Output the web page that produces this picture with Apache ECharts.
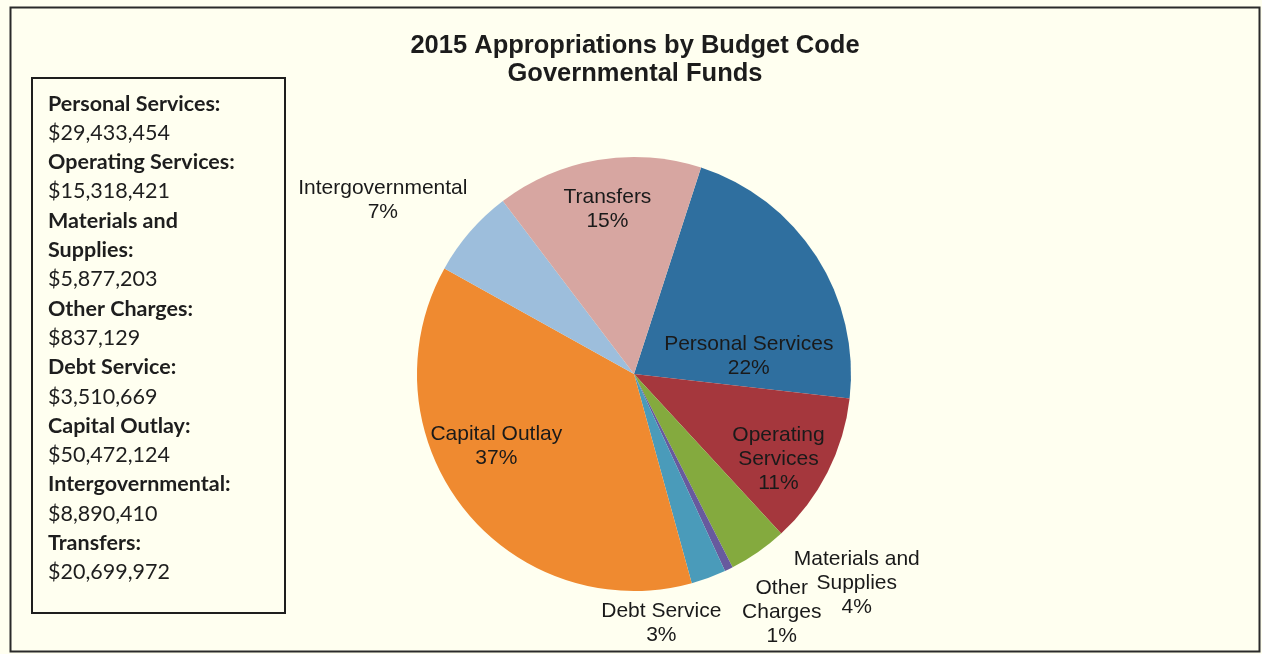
<!DOCTYPE html>
<html>
<head>
<meta charset="utf-8">
<script src="https://cdn.jsdelivr.net/npm/echarts@6/dist/echarts.min.js"></script>
<style>
  html, body { margin: 0; padding: 0; background: #fffff0; }
  #chart { width: 1262px; height: 654px; }
</style>
</head>
<body>
<div id="chart"></div>
<script>
// Budget codes, clockwise from the top of the pie
const categories = [
  'Personal Services', 'Operating Services', 'Materials and Supplies', 'Other Charges',
  'Debt Service', 'Capital Outlay', 'Intergovernmental', 'Transfers'
];
// Slice captions (line-broken names)
const sliceCaptions = [
  'Personal Services', 'Operating\nServices', 'Materials and\nSupplies', 'Other\nCharges',
  'Debt Service', 'Capital Outlay', 'Intergovernmental', 'Transfers'
];
// 2015 appropriations, dollars
const amounts = [29433454, 15318421, 5877203, 837129, 3510669, 50472124, 8890410, 20699972];
// Side panel headings, in display order (index into categories)
const panelOrder = [0, 1, 2, 3, 4, 5, 6, 7];
const panelHeadings = [
  'Personal Services:', 'Operating Services:', 'Materials and\nSupplies:', 'Other Charges:',
  'Debt Service:', 'Capital Outlay:', 'Intergovernmental:', 'Transfers:'
];

const sliceColors = ['#2f6f9f', '#a5373d', '#84aa3e', '#675a9e', '#4a9bba', '#ef8a30', '#9dbedc', '#d7a6a1'];
// label nudges relative to the default inside position
const labelNudge = [
  [21, 43], [45, 35], [159, 118], [99, 138],
  [-11, 145], [-50, 3], [-167, -101], [-8, -55]
];

const fmtMoney = v => '$' + v.toString().replace(/\B(?=(\d{3})+(?!\d))/g, ',');

// side panel text as rich lines
const panelLines = [];
panelOrder.forEach((idx, k) => {
  panelHeadings[k].split('\n').forEach(h => panelLines.push('{h|' + h + '}'));
  panelLines.push('{v|' + fmtMoney(amounts[idx]) + '}');
});

const chart = echarts.init(document.getElementById('chart'), null, { renderer: 'canvas' });
chart.setOption({
  backgroundColor: '#fffff0',
  animation: false,
  title: {
    text: '2015 Appropriations by Budget Code\nGovernmental Funds',
    left: 630,
    textAlign: 'center',
    top: 27,
    textStyle: {
      fontFamily: 'Liberation Sans, Arial, sans-serif',
      fontWeight: 'bold',
      fontSize: 25.5,
      lineHeight: 28,
      color: '#1c1c1c'
    }
  },
  graphic: [
    {
      type: 'rect',
      shape: { x: 10.5, y: 7.5, width: 1249, height: 644 },
      style: { fill: 'none', stroke: '#2a2a2a', lineWidth: 2 },
      silent: true
    },
    {
      type: 'rect',
      shape: { x: 32, y: 78, width: 253, height: 535 },
      style: { fill: 'none', stroke: '#1e1e1e', lineWidth: 2 },
      silent: true
    },
    {
      type: 'text',
      left: 48,
      top: 89,
      style: {
        text: panelLines.join('\n'),
        fill: '#1e1e1e',
        fontFamily: 'Lato, Open Sans, sans-serif',
        fontSize: 21.5,
        lineHeight: 29.3,
        rich: {
          h: { fontFamily: 'Lato, sans-serif', fontWeight: 'bold', fontSize: 21.5, lineHeight: 29.3, fill: '#1e1e1e' },
          v: { fontFamily: 'Lato, sans-serif', fontWeight: 'normal', fontSize: 21.5, lineHeight: 29.3, fill: '#1e1e1e' }
        }
      },
      silent: true
    }
  ],
  series: [{
    type: 'pie',
    center: [634, 374],
    radius: [0, 217],
    startAngle: 72,
    clockwise: true,
    avoidLabelOverlap: false,
    color: sliceColors,
    itemStyle: { borderWidth: 0 },
    label: {
      show: true,
      position: 'inside',
      formatter: p => sliceCaptions[p.dataIndex] + '\n' + Math.round(p.percent) + '%',
      fontFamily: 'Liberation Sans, Arial, sans-serif',
      fontSize: 21,
      lineHeight: 24,
      color: '#1a1a1a',
      align: 'center'
    },
    labelLine: { show: false },
    labelLayout: p => ({ dx: labelNudge[p.dataIndex][0], dy: labelNudge[p.dataIndex][1] }),
    data: categories.map((name, i) => ({ name, value: amounts[i] }))
  }]
});
</script>
</body>
</html>
